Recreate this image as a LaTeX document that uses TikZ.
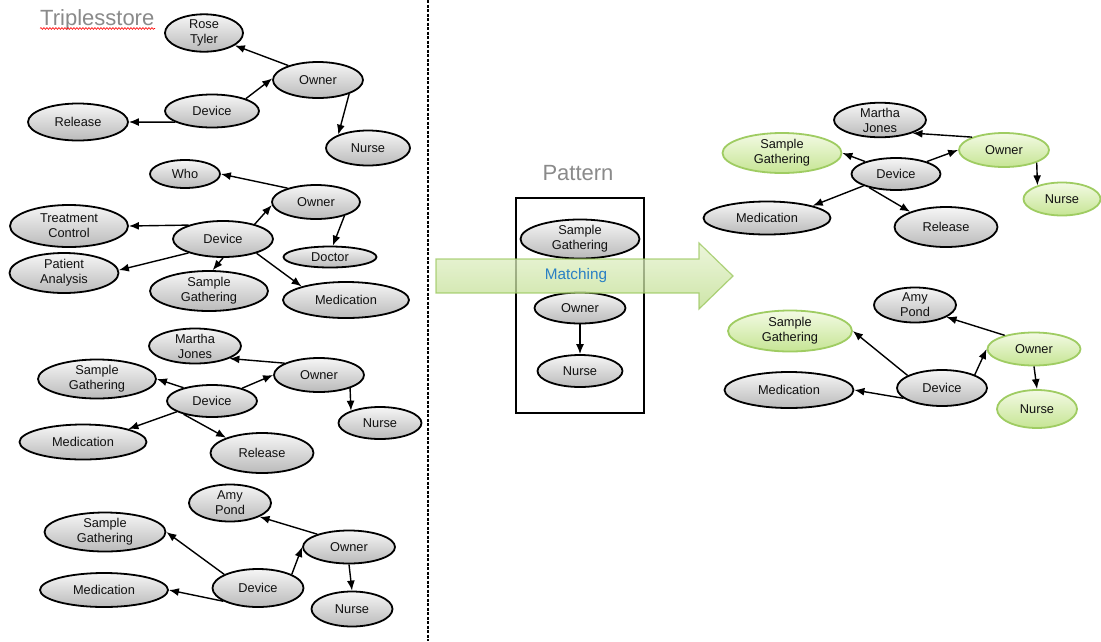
\documentclass[tikz,border=0pt]{standalone}
\usepackage{fontspec}
\setmainfont{Liberation Sans}
\usetikzlibrary{arrows.meta,shapes.geometric,decorations.pathmorphing}
\definecolor{greyTop}{HTML}{F6F6F6}
\definecolor{greyBot}{HTML}{BABABA}
\definecolor{greenTop}{HTML}{F3FAE4}
\definecolor{greenBot}{HTML}{C6E594}
\definecolor{greenLine}{HTML}{9FCC62}
\definecolor{arrowTop}{HTML}{E6F3CF}
\definecolor{arrowBot}{HTML}{BEDD8C}
\definecolor{arrowLine}{HTML}{97C557}
\definecolor{titleGrey}{HTML}{8A8A8A}
\definecolor{matchBlue}{HTML}{2A80C4}
\definecolor{labelInk}{HTML}{111111}
\tikzset{
  gnode/.style={ellipse, draw=black, line width=1.8pt, top color=greyTop, bottom color=greyBot,
    inner sep=0pt, align=center, text=labelInk, font=\fontsize{12.8}{15}\selectfont},
  hnode/.style={gnode, draw=greenLine, top color=greenTop, bottom color=greenBot},
  sz/.style 2 args={minimum width=#1, minimum height=#2},
  edge/.style={line width=1.4pt, -{Latex[length=10pt,width=8pt]}},
  heading/.style={text=titleGrey, font=\fontsize{22}{24}\selectfont, inner sep=0pt},
}
\begin{document}
\begin{tikzpicture}[x=1pt,y=-1pt]
\useasboundingbox[fill=white] (0,0) rectangle (1101,641);

% ---------- left panel: the triple store ----------
\node[heading, anchor=west] (title) at (40,20) {Triplesstore};
\draw[red, line width=0.6pt, decorate, decoration={snake, amplitude=0.9pt, segment length=3pt}]
  (title.south west) ++(0,-2) -- ++(115,0);

% first graph
\node[gnode, sz={78}{35}] (rt) at (204,33) {Rose\\Tyler};
\node[gnode, sz={90}{36}] (o1) at (318,80) {Owner};
\node[gnode, sz={94}{33}] (d1) at (212,111) {Device};
\node[gnode, sz={100}{37}] (r1) at (78,122) {Release};
\node[gnode, sz={84}{35}] (n1) at (368,148) {Nurse};
\draw[edge] (o1.154) -- (rt.-22);
\draw[edge] (d1.20) -- (o1.178);
\draw[edge] (d1.-163) -- (r1.east);
\draw[edge] (o1.-24) -- (n1.156);

% second graph
\node[gnode, sz={70}{28}] (who) at (185,174) {Who};
\node[gnode, sz={88}{34}] (o2) at (316,202) {Owner};
\node[gnode, sz={118}{42}] (tc) at (69,226) {Treatment\\Control};
\node[gnode, sz={100}{36}] (d2) at (223,239) {Device};
\node[gnode, sz={93}{21}] (doc) at (330,257) {Doctor};
\node[gnode, sz={109}{40}] (pa) at (64,273) {Patient\\Analysis};
\node[gnode, sz={118}{40}] (sg2) at (209,291) {Sample\\Gathering};
\node[gnode, sz={126}{36}] (m2) at (346,300) {Medication};
\draw[edge] (o2.154) -- (who.east);
\draw[edge] (d2.25) -- (o2.184);
\draw[edge] (d2.158) -- (tc.east);
\draw[edge] (d2.-158) -- (pa.3);
\draw[edge] (d2.south) -- (sg2.80);
\draw[edge] (d2.-23) -- (m2.163);
\draw[edge] (o2.-26) -- (doc.76);

% third graph
\node[gnode, sz={92}{35}] (mj3) at (195,346) {Martha\\Jones};
\node[gnode, sz={90}{34}] (o3) at (319,375) {Owner};
\node[gnode, sz={118}{39}] (sg3) at (97,379) {Sample\\Gathering};
\node[gnode, sz={90}{32}] (d3) at (212,401) {Device};
\node[gnode, sz={83}{32}] (n3) at (380,423) {Nurse};
\node[gnode, sz={127}{35}] (m3) at (83,442) {Medication};
\node[gnode, sz={103}{40}] (r3) at (262,453) {Release};
\draw[edge] (o3.161) -- (mj3.-20);
\draw[edge] (d3.23) -- (o3.west);
\draw[edge] (d3.155) -- (sg3.east);
\draw[edge] (d3.-163) -- (m3.16);
\draw[edge] (d3.-155) -- (r3.157);
\draw[edge] (o3.-23) -- (n3.157);

% fourth graph
\node[gnode, sz={82}{37}] (ap4) at (230,503) {Amy\\Pond};
\node[gnode, sz={92}{33}] (o4) at (349,547) {Owner};
\node[gnode, sz={121}{39}] (sg4) at (105,532) {Sample\\Gathering};
\node[gnode, sz={91}{38}] (d4) at (258,588) {Device};
\node[gnode, sz={128}{34}] (m4) at (104,590) {Medication};
\node[gnode, sz={81}{35}] (n4) at (352,609) {Nurse};
\draw[edge] (o4.158) -- (ap4.-25);
\draw[edge] (d4.22) -- (o4.west);
\draw[edge] (d4.158) -- (sg4.east);
\draw[edge] (d4.-159) -- (m4.east);
\draw[edge] (o4.south) -- (n4.north);

% panel separator
\coordinate (sepTop) at (428,0);
\coordinate (sepBot) at (428,641);
\draw[line width=1.2pt, dash pattern=on 3pt off 1.5pt] (sepTop) -- (sepBot);

% ---------- pattern ----------
\node[heading] (ptitle) at (578,173) {Pattern};
\node[draw=black, line width=2.8pt, minimum width=128, minimum height=215, inner sep=0pt] (pbox) at (580,305.5) {};
\node[gnode, sz={119}{39}] (sgp) at (580,239) {Sample\\Gathering};
\node[gnode, sz={91}{31}] (op) at (580,308) {Owner};
\node[gnode, sz={85}{32}] (np) at (580,371) {Nurse};
\draw[edge] (op.south) -- (np.north);

% the matching arrow, laid translucent over the pattern box
\path[draw=arrowLine, line width=1.2pt, top color=arrowTop, bottom color=arrowBot, opacity=0.75]
  (436,259) -- (699,259) -- (699,243) -- (733,276) -- (699,309) -- (699,293) -- (436,293) -- cycle;
\node[text=matchBlue, font=\fontsize{15.3}{17}\selectfont, inner sep=0pt] (match) at (576,276) {Matching};

% ---------- results ----------
% first match
\node[gnode, sz={92}{33}] (mjr) at (880,120) {Martha\\Jones};
\node[hnode, sz={119}{40}] (sgr) at (782,153) {Sample\\Gathering};
\node[hnode, sz={90}{34}] (or) at (1004,150) {Owner};
\node[gnode, sz={89}{32}] (dr) at (896,174) {Device};
\node[hnode, sz={77}{33}] (nr) at (1062,199) {Nurse};
\node[gnode, sz={127}{33}] (mr) at (767,218) {Medication};
\node[gnode, sz={103}{40}] (rr) at (946,227) {Release};
\draw[edge] (or.158) -- (mjr.-22);
\draw[edge] (dr.22) -- (or.west);
\draw[edge] (dr.158) -- (sgr.east);
\draw[edge] (dr.-160) -- (mr.15);
\draw[edge] (dr.-153) -- (rr.157);
\draw[edge] (or.-21) -- (nr.151);

% second match
\node[gnode, sz={82}{35}] (aps) at (915,305) {Amy\\Pond};
\node[hnode, sz={124}{41}] (sgs) at (790,331) {Sample\\Gathering};
\node[hnode, sz={93}{33}] (os) at (1034,349) {Owner};
\node[gnode, sz={90}{36}] (ds) at (942,388) {Device};
\node[gnode, sz={129}{36}] (ms) at (789,390) {Medication};
\node[hnode, sz={80}{38}] (ns) at (1037,409) {Nurse};
\draw[edge] (os.155) -- (aps.-21);
\draw[edge] (ds.22) -- (os.west);
\draw[edge] (ds.160) -- (sgs.east);
\draw[edge] (ds.-165) -- (ms.east);
\draw[edge] (os.south) -- (ns.north);
\end{tikzpicture}
\end{document}
